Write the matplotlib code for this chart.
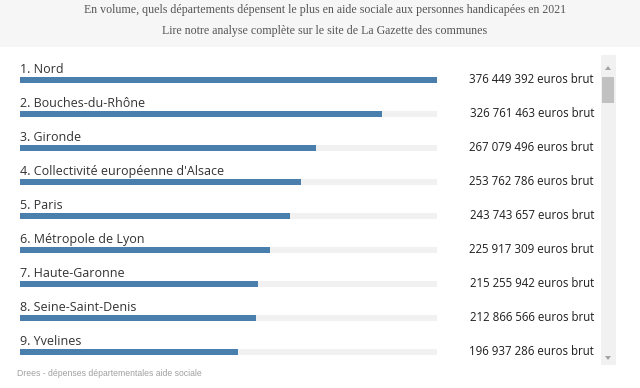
import matplotlib
matplotlib.use("Agg")
import matplotlib.pyplot as plt
from matplotlib.patches import Rectangle, Polygon
from matplotlib.transforms import blended_transform_factory

# ── data ──────────────────────────────────────────────────────────────────────
departements = [
    "Nord", "Bouches-du-Rhône", "Gironde", "Collectivité européenne d'Alsace",
    "Paris", "Métropole de Lyon", "Haute-Garonne", "Seine-Saint-Denis", "Yvelines",
]
montants = [
    376449392, 326761463, 267079496, 253762786, 243743657,
    225917309, 215255942, 212866566, 196937286,
]

TITLE = "En volume, quels départements dépensent le plus en aide sociale aux personnes handicapées en 2021"
SUBTITLE = "Lire notre analyse complète sur le site de La Gazette des communes"
SOURCE = "Drees - dépenses départementales aide sociale"

BAR_COLOR = "#4a7eac"
TRACK_COLOR = "#f1f1f1"
TEXT_COLOR = "#333333"
HEADER_BG = "#f6f6f6"

W, H = 640, 388
fig = plt.figure(figsize=(W / 100, H / 100), dpi=100)
fig.patch.set_facecolor("white")

def px(x, y):
    return x / W, 1 - y / H

# header band
fig.patches.append(Rectangle((0, 1 - 47 / H), 1, 47 / H, transform=fig.transFigure,
                             facecolor=HEADER_BG, edgecolor="none", zorder=0))
fig.text(*px(325, 10), TITLE, ha="center", va="center", fontsize=8.6,
         family="Liberation Serif", color="#555555")
fig.text(*px(325, 31), SUBTITLE, ha="center", va="center", fontsize=8.6,
         family="Liberation Serif", color="#555555")

# bars axes: rows centred at y = 80 + 34*i px, x from 20 to 437 px
top, bottom = 63, 369
ax = fig.add_axes([20 / W, 1 - bottom / H, 417 / W, (bottom - top) / H])
ax.set_xlim(0, max(montants))
ax.set_ylim(len(montants) - 0.5, -0.5)
ax.axis("off")

n = len(montants)
ypos = list(range(n))
ax.barh(ypos, [max(montants)] * n, height=6 / 34, color=TRACK_COLOR, zorder=1)
ax.barh(ypos, montants, height=6 / 34, color=BAR_COLOR, zorder=2)

trans = blended_transform_factory(ax.transAxes, ax.transData)
for i, (name, val) in enumerate(zip(departements, montants)):
    ax.text(0, i - 0.31, f"{i + 1}. {name}", transform=trans, ha="left", va="center",
            fontsize=9.0, family="Open Sans", color=TEXT_COLOR, clip_on=False)
    label = f"{val:,}".replace(",", " ") + " euros brut"
    ax.text((594 - 20) / 417, i - 0.02, label, transform=trans, ha="right", va="center",
            fontsize=8.3, family="Open Sans", color="#1e1e1e", clip_on=False)

# scrollbar
fig.patches.append(Rectangle(px(601, 365), 15 / W, 310 / H, transform=fig.transFigure,
                             facecolor="#f1f1f1", edgecolor="none"))
fig.patches.append(Rectangle(px(602, 103), 12 / W, 26 / H, transform=fig.transFigure,
                             facecolor="#c1c1c1", edgecolor="none"))
fig.patches.append(Polygon([px(605, 70), px(611, 70), px(608, 66)], closed=True,
                           transform=fig.transFigure, facecolor="#a3a3a3", edgecolor="none"))
fig.patches.append(Polygon([px(605, 356), px(611, 356), px(608, 360)], closed=True,
                           transform=fig.transFigure, facecolor="#a3a3a3", edgecolor="none"))

fig.text(*px(17, 374), SOURCE, ha="left", va="center", fontsize=6.2,
         family="Liberation Sans", color="#a0a0a0")

plt.savefig("out.png", dpi=100, facecolor=fig.get_facecolor())
plt.close()
